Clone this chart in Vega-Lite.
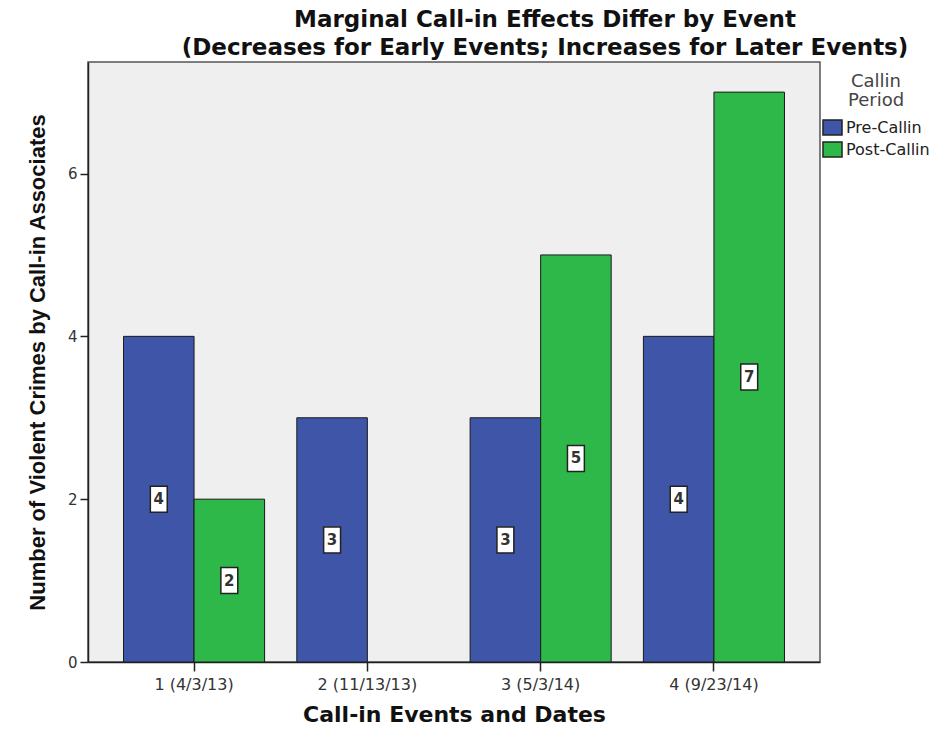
{
  "$schema": "https://vega.github.io/schema/vega-lite/v6.json",
  "width": 732,
  "height": 600,
  "autosize": "none",
  "padding": {"left": 88, "top": 62, "right": 116, "bottom": 68},
  "background": "white",
  "config": {
    "view": {"fill": "#efefef", "stroke": "#555555", "strokeWidth": 1.5},
    "font": "DejaVu Sans"
  },
  "title": {
    "text": ["Marginal Call-in Effects Differ by Event", "(Decreases for Early Events; Increases for Later Events)"],
    "font": "DejaVu Sans",
    "fontSize": 23,
    "fontWeight": "bold",
    "color": "#111111",
    "anchor": "middle",
    "dx": 91,
    "offset": 2,
    "lineHeight": 28
  },
  "data": {
    "values": [
      {"event": "1 (4/3/13)", "period": "Pre-Callin", "value": 4},
      {"event": "1 (4/3/13)", "period": "Post-Callin", "value": 2},
      {"event": "2 (11/13/13)", "period": "Pre-Callin", "value": 3},
      {"event": "3 (5/3/14)", "period": "Pre-Callin", "value": 3},
      {"event": "3 (5/3/14)", "period": "Post-Callin", "value": 5},
      {"event": "4 (9/23/14)", "period": "Pre-Callin", "value": 4},
      {"event": "4 (9/23/14)", "period": "Post-Callin", "value": 7}
    ]
  },
  "encoding": {
    "x": {
      "field": "event",
      "type": "nominal",
      "sort": ["1 (4/3/13)", "2 (11/13/13)", "3 (5/3/14)", "4 (9/23/14)"],
      "scale": {"paddingInner": 0.186, "paddingOuter": 0.205},
      "axis": {
        "title": "Call-in Events and Dates",
        "titleFont": "DejaVu Sans",
        "titleFontSize": 22,
        "titleFontWeight": "bold",
        "titleColor": "#111111",
        "titlePadding": 12,
        "labelAngle": 0,
        "labelFont": "DejaVu Sans",
        "labelFontSize": 16,
        "labelColor": "#333333",
        "labelPadding": 5,
        "tickSize": 9,
        "tickColor": "#222222",
        "domainColor": "#222222",
        "domainWidth": 1.5,
        "tickWidth": 1.5
      }
    },
    "xOffset": {
      "field": "period",
      "type": "nominal",
      "sort": ["Pre-Callin", "Post-Callin"],
      "scale": {"paddingInner": 0, "paddingOuter": 0}
    }
  },
  "layer": [
    {
      "mark": {"type": "bar", "stroke": "#1a1a1a", "strokeWidth": 1},
      "encoding": {
        "y": {
          "field": "value",
          "type": "quantitative",
          "scale": {"domain": [0, 7.37], "nice": false},
          "axis": {
            "values": [0, 2, 4, 6],
            "grid": false,
            "title": "Number of Violent Crimes by Call-in Associates",
            "titleFont": "Liberation Sans",
            "titleFontSize": 22,
            "titleFontWeight": "bold",
            "titleColor": "#111111",
            "titlePadding": 18,
            "labelFont": "DejaVu Sans",
            "labelFontSize": 15,
            "labelColor": "#333333",
            "labelPadding": 3,
            "tickSize": 8,
            "tickColor": "#222222",
            "tickWidth": 1.5,
            "domainColor": "#222222",
            "domainWidth": 1.5
          }
        },
        "color": {
          "field": "period",
          "type": "nominal",
          "sort": ["Pre-Callin", "Post-Callin"],
          "scale": {"domain": ["Pre-Callin", "Post-Callin"], "range": ["#3f56a8", "#2fb84a"]},
          "legend": {
            "title": ["Callin", "Period"],
            "orient": "none",
            "legendX": 735,
            "legendY": 11,
            "titleFont": "DejaVu Sans",
            "titleFontSize": 18,
            "titleFontWeight": "normal",
            "titleColor": "#444444",
            "titleAnchor": "middle",
            "titleAlign": "center",
            "titleLineHeight": 19,
            "titlePadding": 8,
            "symbolType": "M-1.12,-0.88H1.12V0.88H-1.12Z",
            "symbolSize": 289,
            "symbolStrokeColor": "#222222",
            "symbolStrokeWidth": 1.5,
            "symbolOpacity": 1,
            "labelFont": "DejaVu Sans",
            "labelFontSize": 16,
            "labelColor": "#222222",
            "labelOffset": 4,
            "rowPadding": 1
          }
        }
      }
    },
    {
      "encoding": {
        "y": {
          "field": "value",
          "type": "quantitative",
          "scale": {"domain": [0, 14.74], "nice": false},
          "axis": null
        }
      },
      "layer": [
        {
          "mark": {
            "type": "point",
            "shape": "M-0.65,-1H0.65V1H-0.65Z",
            "size": 676,
            "filled": true,
            "fill": "white",
            "stroke": "#222222",
            "strokeWidth": 1.5,
            "opacity": 1
          }
        },
        {
          "mark": {"type": "text", "font": "DejaVu Sans", "fontSize": 15, "fontWeight": "bold", "color": "#333333", "baseline": "middle", "align": "center"},
          "encoding": {"text": {"field": "value", "type": "quantitative"}}
        }
      ]
    }
  ],
  "resolve": {"scale": {"y": "independent"}}
}
